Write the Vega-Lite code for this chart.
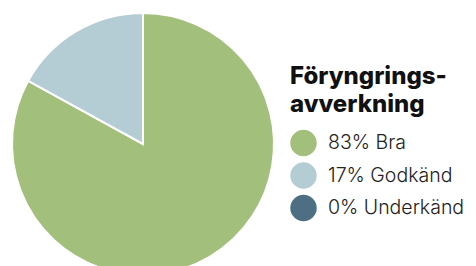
{
  "$schema": "https://vega.github.io/schema/vega-lite/v6.json",
  "width": 286,
  "height": 288,
  "padding": 0,
  "autosize": {"type": "pad"},
  "background": "white",
  "config": {"view": {"stroke": null}},
  "data": {
    "values": [
      {"label": "83% Bra", "value": 83, "rank": 1},
      {"label": "17% Godkänd", "value": 17, "rank": 2},
      {"label": "0% Underkänd", "value": 0, "rank": 3}
    ]
  },
  "mark": {"type": "arc", "outerRadius": 131, "stroke": "white", "strokeWidth": 2},
  "encoding": {
    "theta": {"field": "value", "type": "quantitative", "stack": true},
    "order": {"field": "rank", "type": "quantitative"},
    "color": {
      "field": "label",
      "type": "nominal",
      "sort": ["83% Bra", "17% Godkänd", "0% Underkänd"],
      "scale": {
        "domain": ["83% Bra", "17% Godkänd", "0% Underkänd"],
        "range": ["#a3bf7c", "#b4cdd5", "#4e6e84"]
      },
      "legend": {
        "orient": "none",
        "legendX": 290,
        "legendY": 65,
        "title": ["Föryngrings-", "avverkning"],
        "titleFont": "Inter",
        "titleFontSize": 24,
        "titleFontWeight": 800,
        "titleLineHeight": 27.5,
        "titleColor": "#111111",
        "titlePadding": 13,
        "labelFont": "Inter",
        "labelFontSize": 19.5,
        "labelFontWeight": 300,
        "labelColor": "#222222",
        "labelOffset": 11,
        "labelLimit": 300,
        "symbolType": "circle",
        "symbolSize": 700,
        "symbolStrokeWidth": 0,
        "rowPadding": 5.5
      }
    }
  }
}
